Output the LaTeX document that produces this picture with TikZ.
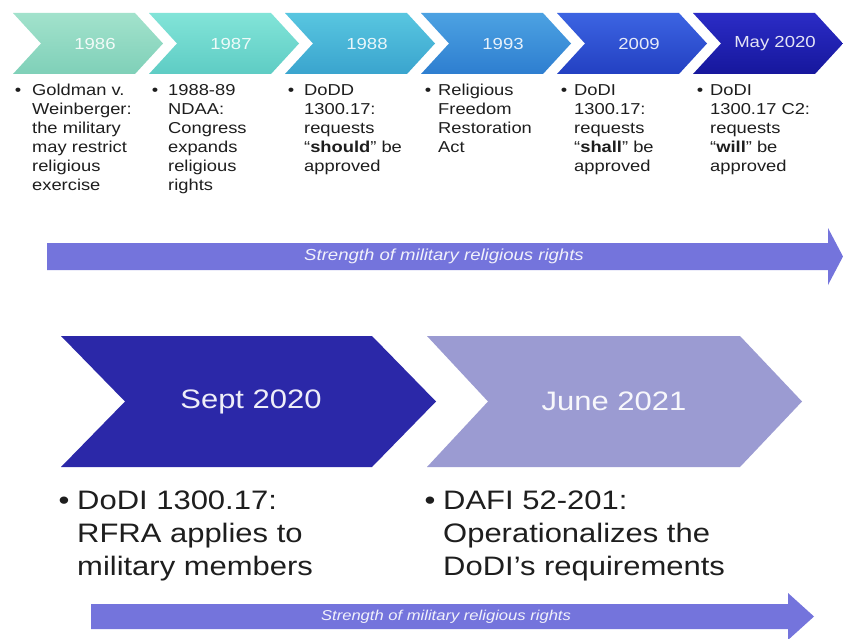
\documentclass[tikz,border=0pt]{standalone}
\usepackage{fontspec}
\setmainfont{Liberation Sans}[FakeStretch=1.16]
\definecolor{ca1}{HTML}{A2E2CC}\definecolor{cb1}{HTML}{7FD0B8}
\definecolor{ca2}{HTML}{82E4D8}\definecolor{cb2}{HTML}{5ECCC4}
\definecolor{ca3}{HTML}{58C6E0}\definecolor{cb3}{HTML}{3AA4CE}
\definecolor{ca4}{HTML}{4CA2E2}\definecolor{cb4}{HTML}{2E7ED0}
\definecolor{ca5}{HTML}{3C64E2}\definecolor{cb5}{HTML}{2340C2}
\definecolor{ca6}{HTML}{2B2CC6}\definecolor{cb6}{HTML}{16179C}
\definecolor{septc}{HTML}{2B28A8}
\definecolor{junec}{HTML}{9B9BD2}
\definecolor{arrowc}{HTML}{7474DC}
\definecolor{txtc}{HTML}{1E1E1E}
\newcommand\toplines[1]{\fontsize{15.8}{19}\selectfont\begin{tabular}[t]{@{}l@{}}#1\end{tabular}}
\newcommand\biglines[1]{\fontsize{26.7}{33}\selectfont\begin{tabular}[t]{@{}l@{}}#1\end{tabular}}
\begin{document}
\begin{tikzpicture}[x=1pt,y=-1pt,
  chevlabel/.style={text=white,text opacity=0.88,inner sep=0pt,font=\fontsize{16}{19}\selectfont},
  toptext/.style={text=txtc,inner sep=0pt,anchor=base west},
  topbullet/.style={text=txtc,inner sep=0pt,anchor=base,font=\fontsize{15.8}{19}\selectfont},
  bigtext/.style={text=txtc,inner sep=0pt,anchor=base west},
  bigbullet/.style={text=txtc,inner sep=0pt,anchor=base,font=\fontsize{26.7}{33}\selectfont},
  biglabel/.style={text=white,text opacity=0.92,inner sep=0pt,font=\fontsize{26.7}{32}\selectfont},
  arrowlabel/.style={text=white,text opacity=0.9,inner sep=0pt,font=\itshape\fontsize{16}{19}\selectfont}]
\useasboundingbox (0,0) rectangle (843,639);
\fill[white] (0,0) rectangle (843,639);
% top chevrons
\foreach \L/\lab [count=\i] in {13/1986,149/1987,285/1988,421/1993,557/2009,693/May 2020}{
  \shade[top color=ca\i,bottom color=cb\i]
    (\L,13) -- (\L+122,13) -- (\L+150,43.5) -- (\L+122,74) -- (\L,74) -- (\L+28,43.5) -- cycle;
  \node[chevlabel] (y\i) at (\L+82,43.5) {\lab};
}
% top texts
\node[toptext] (t1) at (32,95.5) {\toplines{Goldman v.\\Weinberger:\\the military\\may restrict\\religious\\exercise}};
\node[toptext] (t2) at (168,95.5) {\toplines{1988-89\\NDAA:\\Congress\\expands\\religious\\rights}};
\node[toptext] (t3) at (304,95.5) {\toplines{DoDD\\1300.17:\\requests\\“\textbf{should}” be\\approved}};
\node[toptext] (t4) at (438,95.5) {\toplines{Religious\\Freedom\\Restoration\\Act}};
\node[toptext] (t5) at (574,95.5) {\toplines{DoDI\\1300.17:\\requests\\“\textbf{shall}” be\\approved}};
\node[toptext] (t6) at (710,95.5) {\toplines{DoDI\\1300.17 C2:\\requests\\“\textbf{will}” be\\approved}};
\foreach \x [count=\i] in {18,155,291,428,564,700}{
  \node[topbullet] (b\i) at (\x,95.5) {•};
}
% top arrow
\fill[arrowc] (47,243) -- (828,243) -- (828,228) -- (843,256.5) -- (828,285) -- (828,270) -- (47,270) -- cycle;
\node[arrowlabel] (s1) at (444,256.5) {Strength of military religious rights};
% bottom chevrons
\fill[septc] (61,336) -- (372,336) -- (436,401.5) -- (372,467) -- (61,467) -- (125,401.5) -- cycle;
\node[biglabel] (sept) at (251,401.5) {Sept 2020};
\fill[junec] (427,336) -- (740,336) -- (802,401.5) -- (740,467) -- (427,467) -- (488,401.5) -- cycle;
\node[biglabel] (june) at (614,401.5) {June 2021};
% bottom texts
\node[bigbullet] (bb1) at (64,509.5) {•};
\node[bigtext] (bt1) at (77,509.5) {\biglines{DoDI 1300.17:\\RFRA applies to\\military members}};
\node[bigbullet] (bb2) at (430,509.5) {•};
\node[bigtext] (bt2) at (443,509.5) {\biglines{DAFI 52-201:\\Operationalizes the\\DoDI’s requirements}};
% bottom arrow
\fill[arrowc] (91,604) -- (788,604) -- (788,593) -- (814,616.5) -- (788,640) -- (788,629) -- (91,629) -- cycle;
\node[arrowlabel,font=\itshape\fontsize{14.3}{17}\selectfont] (s2) at (446,616.5) {Strength of military religious rights};
\end{tikzpicture}
\end{document}
